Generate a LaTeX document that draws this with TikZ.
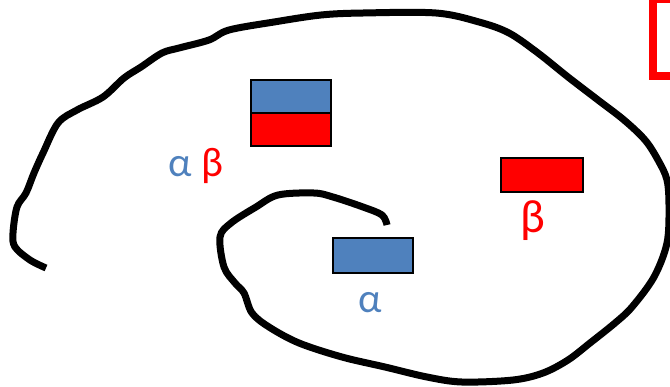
\documentclass[tikz,border=0pt]{standalone}
\usepackage{fontspec}
\newfontfamily\lblfont{Carlito}
\usetikzlibrary{positioning}
\definecolor{cellblue}{HTML}{4F81BD}
\definecolor{cellred}{HTML}{FF0000}
\tikzset{
  cell/.style={draw, line width=1.5pt, minimum width=60pt, minimum height=24.75pt,
    inner sep=0pt, outer sep=0pt},
  lbl/.style={font=\lblfont\fontsize{31}{37}\selectfont, inner sep=0pt, anchor=base},
  rim/.style={line width=5.25pt, line join=round},
}

\begin{document}
\begin{tikzpicture}[x=0.75pt, y=-0.75pt]
  \useasboundingbox (0,0) rectangle (670,386);
  \clip (0,0) rectangle (670,386);
  \pgfmathsetmacro{\xa}{291}
  \pgfmathsetmacro{\ya}{96.5}

  % spiral
  \draw[rim] plot[smooth, tension=0.55] coordinates {
    (46,268) (30,260) (15,247) (13,233) (17,207) (26,193) (34,173) (43,153)
    (58,123) (77,110) (103,97) (124,78) (141,67) (162,53) (179,48) (209,40)
    (229,30) (274,22) (321,15) (363,13) (436,13) (479,22) (509,33) (538,53)
    (568,77) (598,100) (624,120) (645,140) (658,160) (667,180) (669,207)
    (667,243) (654,277) (632,307) (615,323) (590,343) (568,360) (543,373)
    (513,380) (462,382) (427,377) (385,367) (342,357) (299,343) (269,327)
    (252,313) (244,293) (235,283) (224,267) (220,237) (231,223) (256,207)
    (278,195) (314,193) (333,197) (363,207) (382,215) (387,225)};

  \node[cell, fill=cellblue] (ab1) at (\xa, \ya) {};
  \node[cell, fill=cellred, below=0pt of ab1] (ab2) {};
  \node[lbl] (ablbl) at (196, 176) {{\color{cellblue}α} {\color{cellred}β}};

  \node[cell, fill=cellblue, minimum height=26.25pt] (acell) at (373, 255.5) {};
  \node[lbl, text=cellblue] (albl) at (370, 312) {α};

  \node[cell, fill=cellred, minimum width=61.5pt, minimum height=25.5pt] (bcell) at (542, 175) {};
  \node[lbl, text=cellred, font=\lblfont\fontsize{35}{42}\selectfont] (blbl) at (533, 232) {β};

  % corner mark
  \draw[cellred, line width=6pt] (652.5,-1) rectangle (720,76);
\end{tikzpicture}
\end{document}
